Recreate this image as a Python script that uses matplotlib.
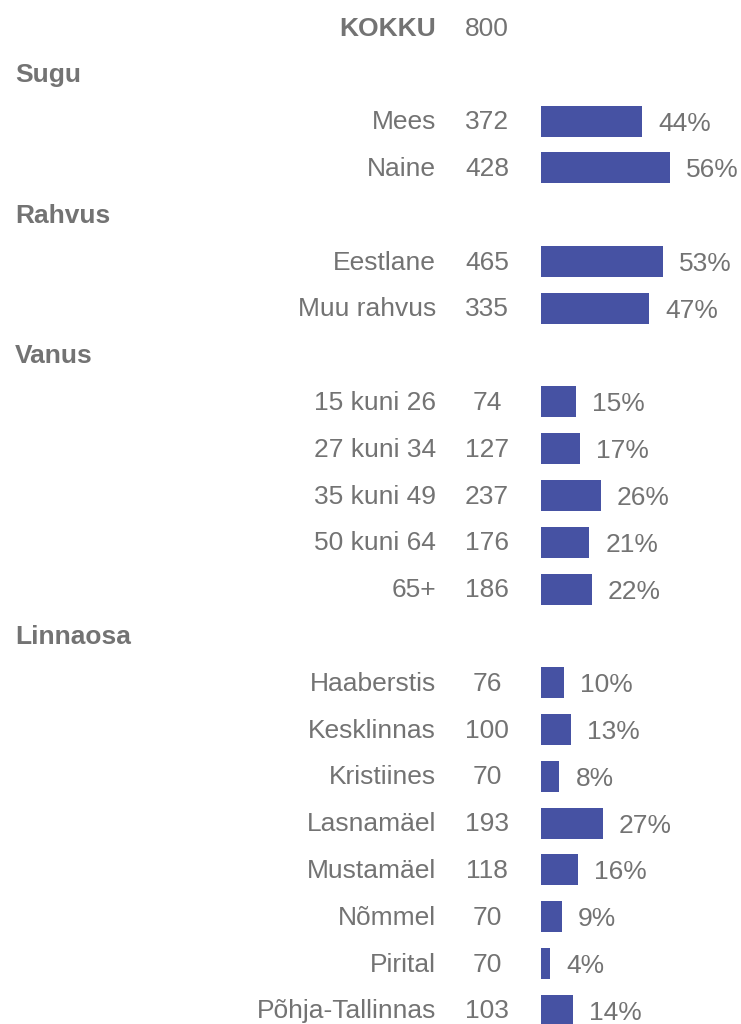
import matplotlib
matplotlib.use("Agg")
import matplotlib.pyplot as plt
from matplotlib.transforms import blended_transform_factory, offset_copy

plt.rcParams["font.family"] = ["Liberation Sans", "DejaVu Sans"]

# Rows from top to bottom: group headers have no count/percent
total_label = "KOKKU"
total_n = 800

groups = ["Sugu", "Rahvus", "Vanus", "Linnaosa"]
sugu_labels = ["Mees", "Naine"]
sugu_n = [372, 428]
sugu_pct = [44, 56]
rahvus_labels = ["Eestlane", "Muu rahvus"]
rahvus_n = [465, 335]
rahvus_pct = [53, 47]
vanus_labels = ["15 kuni 26", "27 kuni 34", "35 kuni 49", "50 kuni 64", "65+"]
vanus_n = [74, 127, 237, 176, 186]
vanus_pct = [15, 17, 26, 21, 22]
linnaosa_labels = ["Haaberstis", "Kesklinnas", "Kristiines", "Lasnamäel",
                   "Mustamäel", "Nõmmel", "Pirital", "Põhja-Tallinnas"]
linnaosa_n = [76, 100, 70, 193, 118, 70, 70, 103]
linnaosa_pct = [10, 13, 8, 27, 16, 9, 4, 14]

sections = [
    (groups[0], sugu_labels, sugu_n, sugu_pct),
    (groups[1], rahvus_labels, rahvus_n, rahvus_pct),
    (groups[2], vanus_labels, vanus_n, vanus_pct),
    (groups[3], linnaosa_labels, linnaosa_n, linnaosa_pct),
]

W, H, DPI = 741, 1024, 100
BAR_COLOR = "#4652A3"
TEXT_COLOR = "#737373"
FS = 19

fig = plt.figure(figsize=(W / DPI, H / DPI), dpi=DPI)
bar_left = 541 / W
ax = fig.add_axes([bar_left, 0, 1 - bar_left, 1])
ax.set_axis_off()

row_px = 46.8
top_px = 27.5
ax.set_ylim((H - top_px) / row_px, -top_px / row_px)
ax.set_xlim(0, (W - 541) / 2.3)

lab_tf = offset_copy(blended_transform_factory(fig.transFigure, ax.transData),
                     fig=fig, x=0, y=-1, units="dots")
x_label = 436 / W
x_num = 487 / W
x_head = 15 / W

row = 0
ax.text(x_label, row, total_label, transform=lab_tf, ha="right", va="center",
        fontsize=FS, fontweight="bold", color=TEXT_COLOR)
ax.text(x_num, row, str(total_n), transform=lab_tf, ha="center", va="center",
        fontsize=FS, color=TEXT_COLOR)
row += 1

for head, labels, counts, pcts in sections:
    ax.text(x_head, row, head, transform=lab_tf, ha="left", va="center",
            fontsize=FS, fontweight="bold", color=TEXT_COLOR)
    row += 1
    ys = list(range(row, row + len(labels)))
    ax.barh(ys, pcts, height=0.66, left=0, color=BAR_COLOR)
    for y, lab, n, p in zip(ys, labels, counts, pcts):
        ax.text(x_label, y, lab, transform=lab_tf, ha="right", va="center",
                fontsize=FS, color=TEXT_COLOR)
        ax.text(x_num, y, str(n), transform=lab_tf, ha="center", va="center",
                fontsize=FS, color=TEXT_COLOR)
        ax.annotate(f"{p}%", xy=(p, y), xytext=(16, -2.5),
                    textcoords="offset pixels", ha="left", va="center",
                    fontsize=FS, color=TEXT_COLOR)
    row += len(labels)

fig.savefig("out.png", dpi=DPI)
